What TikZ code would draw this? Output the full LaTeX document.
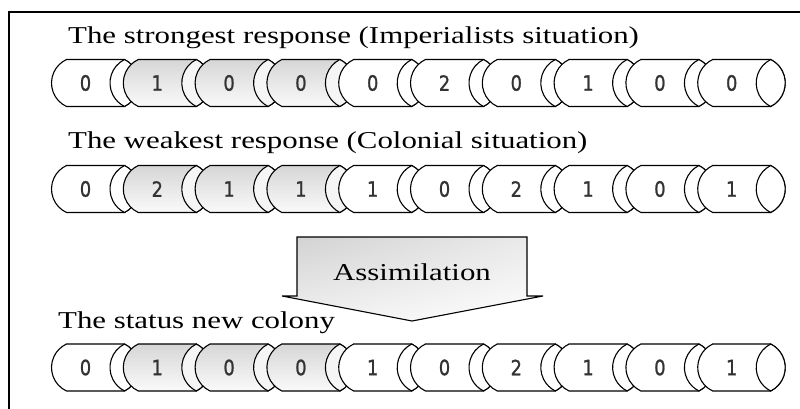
\documentclass[tikz,border=0pt]{standalone}
\usepackage{fontspec}
\setmainfont{Liberation Serif}
\newfontfamily\digitfont[FakeBold=1.2]{DejaVu Sans}
\usetikzlibrary{shadings}
\tikzset{
  segwhite/.style={draw=black, line width=1.1pt, fill=white},
  seggrey/.style={draw=black, line width=1.1pt, top color=black!16, bottom color=black!2},
  lenswhite/.style={draw=black, line width=1.1pt, fill=white},
  lensgrey/.style={draw=black, line width=1.1pt, fill=black!4},
  digit/.style={font=\digitfont\fontsize{21}{21}\selectfont, text=black!80, inner sep=0pt},
  titletext/.style={font=\fontsize{24.2}{26}\selectfont, anchor=base west, inner sep=0pt},
  frameline/.style={draw=black, line width=1.2pt},
  assimbox/.style={line width=1.1pt, draw=black, upper left=black!18, upper right=black!8, lower left=black!6, lower right=white},
}
\newcommand\segrow[3]{%
  \foreach \d [count=\i from 0] in {#2}{%
    \pgfmathsetmacro\xa{66.5+71.8*\i}%
    \pgfmathsetmacro\xc{\xa+58}%
    \ifnum\i>0 \ifnum\i<4 \tikzset{cur/.style={seggrey},curlens/.style={lensgrey}}\else\tikzset{cur/.style={segwhite},curlens/.style={lenswhite}}\fi
    \else\tikzset{cur/.style={segwhite},curlens/.style={lenswhite}}\fi
    \path[cur] (\xa,#1+23.5) -- (\xc,#1+23.5)
      arc[start angle=63.35,end angle=-63.35,radius=26.29]
      -- (\xa,#1-23.5)
      arc[start angle=245.1,end angle=114.9,radius=25.9] -- cycle;
    \path[curlens] (\xc,#1+23.5)
      arc[start angle=116.65,end angle=243.35,radius=26.29]
      arc[start angle=-63.35,end angle=63.35,radius=26.29] -- cycle;
    \node[digit] (r#3d\i) at (\xa+19,#1) {\scalebox{0.85}[1]{\d}};
  }%
}
\begin{document}
\begin{tikzpicture}[x=1pt,y=1pt]
\useasboundingbox (0,0) rectangle (800,-409);
\fill[white] (0,0) rectangle (800,-409);
% frame (cropped)
\draw[frameline] (9,-409) -- (9,-12) -- (800,-12);
% titles
\node[titletext] (t1) at (68,-43.3) {\scalebox{1.275}[1]{The strongest response (Imperialists situation)}};
\node[titletext] (t2) at (68,-149) {\scalebox{1.275}[1]{The weakest response (Colonial situation)}};
\node[titletext] (t3) at (58,-328) {\scalebox{1.275}[1]{The status new colony}};
% rows
\segrow{-83}{0,1,0,0,0,2,0,1,0,0}{a}
\segrow{-189}{0,2,1,1,1,0,2,1,0,1}{b}
\segrow{-367.5}{0,1,0,0,1,0,2,1,0,1}{c}
% assimilation callout
\shadedraw[assimbox] (297,-237) -- (527,-237) -- (527,-296) -- (543,-296) -- (412,-321) -- (282,-296) -- (297,-296) -- cycle;
\node[titletext, anchor=base] (assim) at (412,-280) {\scalebox{1.275}[1]{Assimilation}};
\end{tikzpicture}
\end{document}
